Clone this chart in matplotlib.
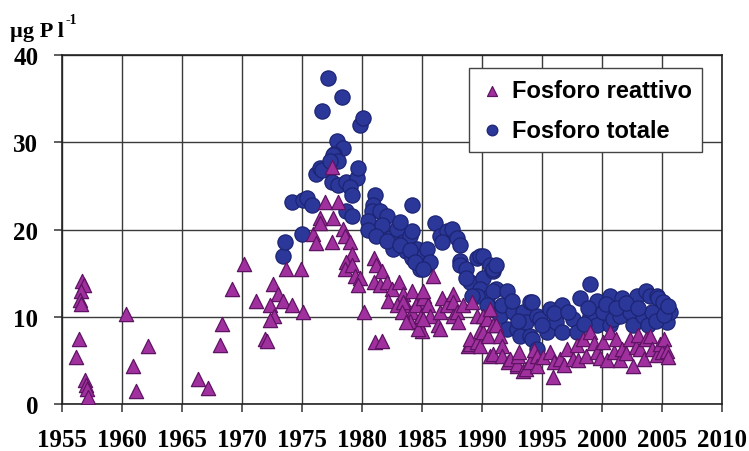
import matplotlib
matplotlib.use('Agg')
import matplotlib.pyplot as plt

# Fosforo reattivo (triangoli)
reattivo_anno = [
    1956.7, 1956.8, 1956.6, 1956.5, 1956.6, 1956.4, 1956.2, 1956.9, 1957.0, 1957.1, 1957.2,
    1960.3, 1962.2, 1960.9, 1961.2, 1966.3, 1967.2, 1968.2, 1968.3, 1969.2, 1970.2,
    1971.2, 1972.6, 1973.0, 1972.3, 1972.7, 1972.3, 1971.9, 1972.1, 1973.4, 1974.2, 1975.1,
    1973.7, 1974.9, 1975.9, 1976.5, 1976.5, 1977.6, 1976.9, 1978.0, 1977.5, 1976.2, 1977.5,
    1978.4, 1978.6, 1979.0, 1979.2, 1978.7, 1978.6, 1979.2, 1979.4, 1979.8, 1979.7, 1980.2,
    1981.0, 1981.2, 1981.7, 1981.0, 1981.5, 1982.1, 1982.5, 1983.1, 1983.4, 1984.2, 1984.7,
    1985.2, 1982.2, 1982.9, 1983.7, 1984.2, 1984.7, 1984.0, 1985.0, 1984.7, 1983.4, 1983.3,
    1983.7, 1984.5, 1985.1, 1984.9, 1981.1, 1981.7, 1985.1, 1985.5, 1985.7, 1986.3, 1985.9,
    1985.1, 1986.5, 1986.5, 1986.7, 1987.1, 1987.6, 1987.6, 1987.6, 1987.9, 1988.0, 1988.4,
    1988.8, 1989.0, 1989.0, 1989.2, 1989.6, 1989.6, 1989.8, 1989.8, 1990.1, 1990.1, 1990.4,
    1990.5, 1990.7, 1990.7, 1990.9, 1990.9, 1991.2, 1991.5, 1991.7, 1991.7, 1992.2, 1992.3,
    1992.9, 1992.9, 1993.0, 1993.1, 1993.4, 1993.7, 1994.0, 1994.3, 1994.6, 1994.6, 1995.1,
    1995.7, 1995.9, 1996.0, 1996.5, 1996.8, 1997.1, 1997.6, 1997.9, 1998.0, 1998.4, 1998.7,
    1999.0, 1999.3, 1999.6, 1999.8, 2000.1, 2000.4, 2000.7, 2001.0, 2001.2, 2001.5, 2001.7,
    2002.0, 2002.3, 2002.6, 2002.8, 2003.0, 2003.2, 2003.5, 2003.7, 2004.0, 2004.2, 2004.6,
    2004.8, 2005.0, 2005.2, 2005.4, 2005.5,
]
reattivo_val = [
    14.1, 13.6, 12.9, 11.9, 11.5, 7.5, 5.4, 2.8, 2.2, 1.7, 0.8,
    10.3, 6.7, 4.3, 1.5, 2.9, 1.8, 6.8, 9.2, 13.2, 16.0,
    11.8, 13.8, 12.6, 11.3, 10.1, 9.6, 7.5, 7.2, 11.8, 11.3, 10.6,
    15.5, 15.5, 19.5, 21.3, 20.8, 21.3, 23.2, 23.2, 27.2, 18.4, 18.6,
    20.1, 19.3, 18.6, 17.2, 16.3, 15.5, 15.9, 14.7, 14.4, 13.6, 10.6,
    16.7, 15.9, 15.2, 14.0, 13.6, 14.0, 13.2, 14.0, 12.6, 12.9, 11.8,
    12.4, 11.8, 11.3, 11.3, 10.6, 9.4, 9.5, 8.4, 8.6, 11.7, 10.6,
    9.4, 11.3, 12.1, 10.1, 7.1, 7.2, 12.9, 11.3, 10.1, 9.0, 14.7,
    9.8, 10.6, 8.6, 12.1, 11.3, 12.6, 11.7, 10.1, 10.6, 9.4, 11.3,
    6.7, 6.9, 7.5, 11.7, 10.1, 7.1, 8.4, 6.7, 8.2, 10.1, 9.8,
    7.8, 5.5, 10.9, 9.0, 5.7, 9.0, 7.8, 6.7, 5.5, 4.8, 5.2,
    4.3, 4.6, 5.5, 6.0, 3.8, 4.0, 4.8, 6.2, 5.5, 4.3, 5.4,
    6.0, 3.1, 4.8, 5.2, 4.5, 6.3, 5.2, 6.8, 5.0, 7.5, 5.5,
    8.2, 7.0, 6.0, 5.3, 7.1, 5.0, 8.2, 6.0, 7.5, 5.0, 6.3,
    5.8, 7.4, 4.3, 6.5, 7.9, 6.3, 5.2, 7.5, 7.8, 6.3, 5.6,
    6.9, 6.0, 7.5, 6.1, 5.4,
]

# Fosforo totale (cerchi)
totale_anno = [
    1973.4, 1973.6, 1974.2, 1975.0, 1975.1, 1975.4, 1975.8, 1976.2, 1976.5, 1976.7,
    1976.7, 1977.2, 1978.3, 1979.8, 1980.1, 1977.9, 1978.4, 1977.7, 1977.6, 1978.0,
    1977.3, 1977.5, 1978.0, 1978.7, 1979.6, 1979.7, 1979.0, 1979.2, 1978.7, 1979.2,
    1981.1, 1980.9, 1980.8, 1980.5, 1980.5, 1981.5, 1982.1, 1981.7, 1981.2, 1982.3,
    1982.9, 1983.2, 1982.6, 1983.4, 1984.0, 1984.2, 1983.7, 1984.6, 1984.2, 1985.1,
    1985.4, 1984.8, 1982.1, 1983.2, 1984.0, 1984.4, 1984.2, 1986.1, 1986.5, 1987.1,
    1987.5, 1986.7, 1987.9, 1988.2, 1985.4, 1985.7, 1985.1, 1988.2, 1988.2, 1988.7,
    1989.6, 1989.8, 1990.1, 1990.7, 1989.0, 1988.7, 1990.1, 1990.9, 1990.9, 1991.2,
    1989.8, 1991.2, 1990.4, 1989.6, 1989.2, 1990.9, 1990.9, 1990.4, 1991.5, 1991.7,
    1992.1, 1992.6, 1992.1, 1992.9, 1993.2, 1993.4, 1993.7, 1994.0, 1994.0, 1994.2,
    1994.6, 1994.6, 1994.8, 1994.2, 1995.4, 1995.7, 1996.2, 1996.7, 1996.7, 1997.6,
    1997.9, 1998.2, 1999.0, 1999.0, 1999.6, 1999.6, 2000.1, 2000.7, 2000.7, 2000.9,
    2001.5, 2001.7, 2002.3, 2002.6, 2002.9, 2003.4, 2003.7, 2003.8, 2004.0, 2004.2,
    2004.6, 2004.7, 2005.1, 2005.4, 2005.7, 1995.0, 1996.0, 1997.2, 1998.5, 1998.8,
    2000.3, 2001.2, 2002.0, 2003.0, 2004.5, 2005.2, 2005.5, 1993.0, 1992.5,
]
totale_val = [
    17.0, 18.6, 23.2, 19.5, 23.4, 23.6, 22.8, 26.4, 27.0, 26.8,
    33.6, 37.4, 35.2, 32.0, 32.8, 30.1, 29.3, 28.7, 28.5, 27.8,
    27.9, 25.5, 25.1, 25.5, 25.9, 27.0, 24.9, 23.9, 22.1, 21.5,
    23.9, 22.8, 22.1, 21.0, 19.9, 22.1, 21.6, 20.5, 19.3, 19.0,
    20.1, 20.9, 17.8, 18.6, 19.3, 22.8, 17.5, 17.8, 16.7, 17.0,
    15.9, 15.5, 18.7, 18.2, 17.6, 16.3, 19.8, 20.7, 19.3, 19.8,
    20.1, 18.6, 19.0, 18.2, 17.8, 16.3, 15.5, 16.4, 15.9, 15.5,
    16.7, 17.0, 17.0, 15.9, 14.0, 14.4, 14.4, 15.2, 15.5, 15.9,
    13.2, 13.2, 12.1, 12.4, 12.4, 12.9, 10.9, 11.3, 10.1, 11.3,
    12.9, 10.6, 8.6, 8.6, 7.8, 10.6, 9.4, 11.7, 7.8, 7.5,
    6.3, 10.1, 9.8, 11.7, 8.2, 10.9, 9.4, 11.3, 8.2, 9.8,
    8.2, 12.1, 13.8, 10.1, 11.8, 9.0, 10.6, 12.4, 9.0, 9.8,
    10.1, 12.1, 10.6, 9.0, 12.4, 10.1, 12.9, 9.0, 12.4, 10.6,
    12.4, 12.1, 11.7, 9.4, 10.6, 9.0, 10.4, 10.6, 9.2, 11.0,
    11.5, 11.0, 11.6, 11.0, 9.5, 10.2, 11.2, 9.5, 11.8,
]

anni_tick = list(range(1955, 2011, 5))
val_tick = [0, 10, 20, 30, 40]

fig = plt.figure(figsize=(7.49, 4.52), dpi=100)
ax = fig.add_axes([0.0828, 0.104, 0.8812, 0.772])

ax.scatter(totale_anno, totale_val, marker='o', s=120, color='#2b3899',
           edgecolors='#1c2473', linewidths=0.9, label='Fosforo totale', zorder=3)
ax.scatter(reattivo_anno, reattivo_val, marker='^', s=105, color='#a0309e',
           edgecolors='#5e1463', linewidths=0.9, label='Fosforo reattivo', zorder=4)

ax.set_xlim(1955, 2010)
ax.set_ylim(0, 40)
ax.set_xticks(anni_tick)
ax.set_yticks(val_tick)
ax.grid(True, color='#3a3a3a', linewidth=1.0)
ax.set_axisbelow(True)
for sp in ax.spines.values():
    sp.set_color('#222222')
    sp.set_linewidth(1.2)
ax.tick_params(direction='out', length=6, width=1.1, color='#333333', pad=11)
for lab in ax.get_xticklabels() + ax.get_yticklabels():
    lab.set_fontfamily('Liberation Serif')
    lab.set_fontweight('bold')
    lab.set_fontsize(18)

fig.text(0.013, 0.918, 'µg P l', fontfamily='Liberation Serif',
         fontweight='bold', fontsize=16)
fig.text(0.088, 0.946, '-1', fontfamily='Liberation Serif',
         fontweight='bold', fontsize=10)

handles, labels = ax.get_legend_handles_labels()
leg = ax.legend(handles[::-1], labels[::-1], loc='upper right',
                bbox_to_anchor=(0.977, 0.975), fancybox=False, framealpha=1,
                edgecolor='#444444', markerscale=0.7, handletextpad=0.35,
                borderpad=0.45, labelspacing=0.7, handlelength=1.0,
                borderaxespad=0.2,
                prop={'family': 'Liberation Sans', 'weight': 'bold', 'size': 17})
leg.get_frame().set_linewidth(1.0)

fig.savefig('out.png', dpi=100)
